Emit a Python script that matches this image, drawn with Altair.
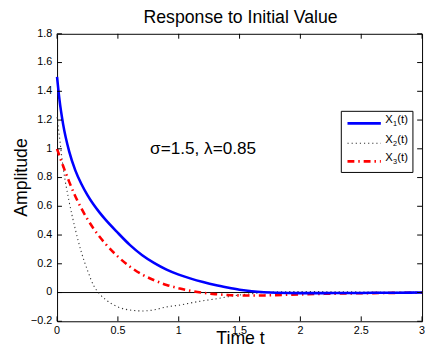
import altair as alt
import pandas as pd

# ---- data ----
t = [0, 0.02, 0.05, 0.1, 0.15, 0.2, 0.25, 0.3, 0.35, 0.4, 0.5, 0.6, 0.7, 0.8, 0.9,
     1.0, 1.1, 1.2, 1.3, 1.4, 1.5, 1.6, 1.7, 1.8, 2.0, 2.2, 2.4, 2.6, 2.8, 3.0]
x1 = [1.50, 1.34, 1.17, 0.98, 0.85, 0.755, 0.678, 0.612, 0.556, 0.505, 0.415, 0.33, 0.26, 0.205, 0.16,
      0.125, 0.097, 0.073, 0.052, 0.035, 0.02, 0.009, 0.002, -0.002, -0.004, -0.004, -0.003, -0.002, -0.001, 0.0]
x2 = [1.22, 1.08, 0.87, 0.63, 0.44, 0.28, 0.155, 0.05, -0.01, -0.05, -0.10, -0.122, -0.128, -0.12, -0.10,
      -0.088, -0.072, -0.057, -0.045, -0.03, -0.017, -0.008, 0.0, 0.004, 0.007, 0.006, 0.005, 0.003, 0.002, 0.001]
x3 = [1.00, 0.95, 0.88, 0.77, 0.67, 0.585, 0.51, 0.445, 0.388, 0.337, 0.25, 0.18, 0.125, 0.085, 0.053,
      0.03, 0.011, -0.002, -0.011, -0.017, -0.02, -0.021, -0.02, -0.018, -0.013, -0.009, -0.006, -0.004, -0.002, -0.001]

x_ticks = [0, 0.5, 1, 1.5, 2, 2.5, 3]
y_ticks = [-0.2, 0, 0.2, 0.4, 0.6, 0.8, 1.0, 1.2, 1.4, 1.6, 1.8]
subs = ["1", "2", "3"]
title_text = "Response to Initial Value"
x_title = "Time t"
y_title = "Amplitude"
annotation = "σ=1.5, λ=0.85"

FONT = "Liberation Sans"
W, H = 372, 293

df = pd.DataFrame({"t": t, "x1": x1, "x2": x2, "x3": x3})
xs = alt.Scale(domain=[0, 3], nice=False)
ys = alt.Scale(domain=[-0.2, 1.8], nice=False)

base = alt.Chart(df)

zero = alt.Chart(pd.DataFrame({"y": [0]})).mark_rule(color="black", strokeWidth=1).encode(
    y=alt.Y("y:Q", scale=ys, axis=None))

l1 = base.mark_line(color="#0000ff", strokeWidth=2.6, interpolate="monotone").encode(
    x=alt.X("t:Q", scale=xs, axis=None), y=alt.Y("x1:Q", scale=ys, axis=None))
l2 = base.mark_line(color="#333333", strokeWidth=1.1, strokeDash=[1.2, 3],
                    interpolate="monotone").encode(
    x=alt.X("t:Q", scale=xs, axis=None), y=alt.Y("x2:Q", scale=ys, axis=None))
l3 = base.mark_line(color="#ff0000", strokeWidth=2.6, strokeDash=[7, 4, 1.5, 4],
                    interpolate="monotone").encode(
    x=alt.X("t:Q", scale=xs, axis=None), y=alt.Y("x3:Q", scale=ys, axis=None))

ann = alt.Chart(pd.DataFrame({"t": [1.2], "v": [1.0], "s": [annotation]})).mark_text(
    font=FONT, fontSize=17.5, align="center", baseline="middle", color="black").encode(
    x=alt.X("t:Q", scale=xs, axis=None), y=alt.Y("v:Q", scale=ys, axis=None), text="s:N")


def label(txt, x, y, size, angle=0, align="center"):
    return alt.Chart(pd.DataFrame({"s": [txt]})).mark_text(
        font=FONT, fontSize=size, align=align, baseline="middle", color="black", angle=angle
    ).encode(x=alt.value(x), y=alt.value(y), text="s:N")


texts = [
    label(title_text, W / 2 + 1, -16, 18),
    label(x_title, W / 2 + 1, H + 18, 18),
    label(y_title, -36, H / 2, 18, angle=270),
]

# tick labels and inward ticks on all four sides
xt = pd.DataFrame({"v": x_ticks})
yt = pd.DataFrame({"v": y_ticks})
tk = [
    alt.Chart(xt).mark_text(font=FONT, fontSize=11, align="center", baseline="middle",
                            color="black").encode(
        x=alt.X("v:Q", scale=xs, axis=None), y=alt.value(H + 9.5),
        text=alt.Text("v:Q", format="~g")),
    alt.Chart(yt).mark_text(font=FONT, fontSize=11, align="right", baseline="middle",
                            color="black").encode(
        y=alt.Y("v:Q", scale=ys, axis=None), x=alt.value(-5),
        text=alt.Text("v:Q", format="~g")),
]
for y0, y1 in [(H, H - 5), (0, 5)]:
    tk.append(alt.Chart(xt).mark_rule(color="black", strokeWidth=1).encode(
        x=alt.X("v:Q", scale=xs, axis=None), y=alt.value(y0), y2=alt.value(y1)))
for a0, a1 in [(0, 5), (W, W - 5)]:
    tk.append(alt.Chart(yt).mark_rule(color="black", strokeWidth=1).encode(
        y=alt.Y("v:Q", scale=ys, axis=None), x=alt.value(a0), x2=alt.value(a1)))

# legend (manual, MATLAB style)
one = pd.DataFrame({"a": [0]})
lx0, lx1, ly0, ly1 = 289.7, 362.7, 79, 141.3
leg = [alt.Chart(one).mark_rect(fill="white", stroke="black", strokeWidth=1).encode(
    x=alt.value(lx0), x2=alt.value(lx1), y=alt.value(ly0), y2=alt.value(ly1))]
styles = [dict(color="#0000ff", strokeWidth=2.6),
          dict(color="#333333", strokeWidth=1.1, strokeDash=[1.2, 3]),
          dict(color="#ff0000", strokeWidth=2.6, strokeDash=[7, 4, 1.5, 4])]
rows = [91.3, 111.5, 130]
for s, yy, st in zip(subs, rows, styles):
    leg.append(alt.Chart(one).mark_rule(**st).encode(
        x=alt.value(296), x2=alt.value(330), y=alt.value(yy)))
    leg.append(label("X", 334.5, yy - 3.3, 11.5, align="left"))
    leg.append(label(s, 342.3, yy + 0.8, 7.5, align="left"))
    leg.append(label("(t)", 346.8, yy - 3.3, 11.5, align="left"))

chart = alt.layer(zero, l2, l3, l1, ann, *texts, *tk, *leg).properties(
    width=W, height=H,
    autosize=alt.AutoSizeParams(type="none"),
    padding={"left": 50, "top": 23, "right": 3, "bottom": 28},
).configure_view(stroke="black", strokeWidth=1)

chart.save("out.html", embed_options={"renderer": "svg", "actions": False})
